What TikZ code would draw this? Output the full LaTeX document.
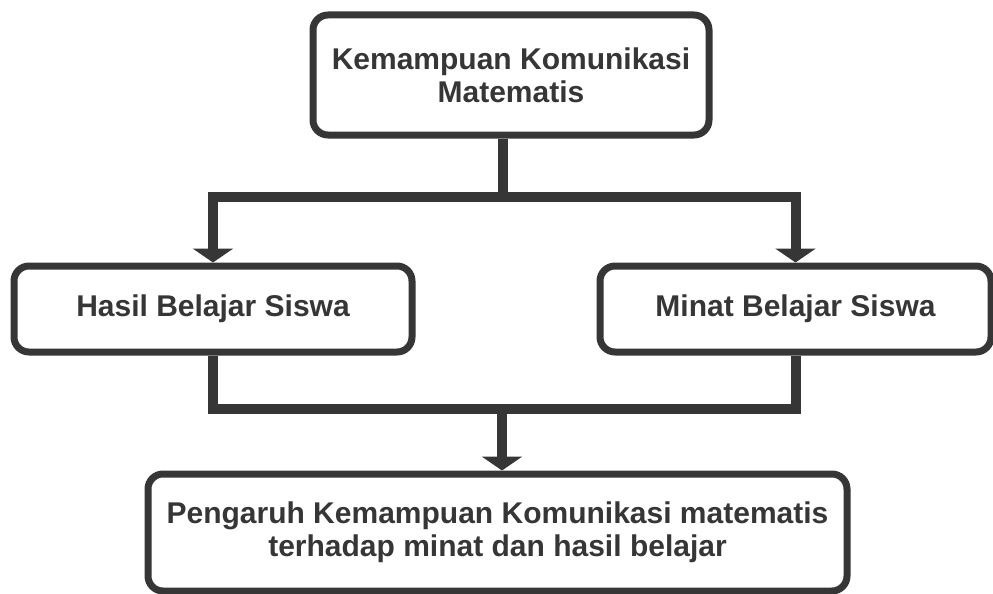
\documentclass[tikz,border=0pt]{standalone}
\usepackage{fontspec}
\setmainfont{Liberation Sans}
\usetikzlibrary{arrows.meta}
\definecolor{ink}{HTML}{363636}
\begin{document}
\begin{tikzpicture}[x=1pt,y=-1pt,
  box/.style={draw=ink, line width=7pt, rounded corners=15pt, fill=white,
    text=ink, align=center, inner sep=0pt,
    font=\fontsize{30}{33}\selectfont\bfseries},
  conn/.style={draw=ink, line width=10pt, line join=miter},
  arr/.style={conn, -{Triangle[width=40pt,length=14pt]}}]
\useasboundingbox (0,0) rectangle (993,594);
\node[box, minimum width=396pt, minimum height=120pt] (top) at (511,75)
  {Kemampuan Komunikasi\\Matematis};
\node[box, minimum width=398pt, minimum height=86pt] (left) at (213,309)
  {Hasil Belajar Siswa};
\node[box, minimum width=391pt, minimum height=86pt] (right) at (795.5,309)
  {Minat Belajar Siswa};
\node[box, minimum width=699pt, minimum height=117pt] (bottom) at (497.5,532.5)
  {Pengaruh Kemampuan Komunikasi matematis\\terhadap minat dan hasil belajar};
\coordinate (split) at (503,197);
\coordinate (merge) at (502,409);
\draw[conn] (top.south -| split) -- (split);
\draw[arr] (split) -| (left.north);
\draw[arr] (split) -| (right.north);
\draw[conn] (left.south) |- (merge) -| (right.south);
\draw[arr] (merge) -- (merge |- bottom.north);
\end{tikzpicture}
\end{document}
